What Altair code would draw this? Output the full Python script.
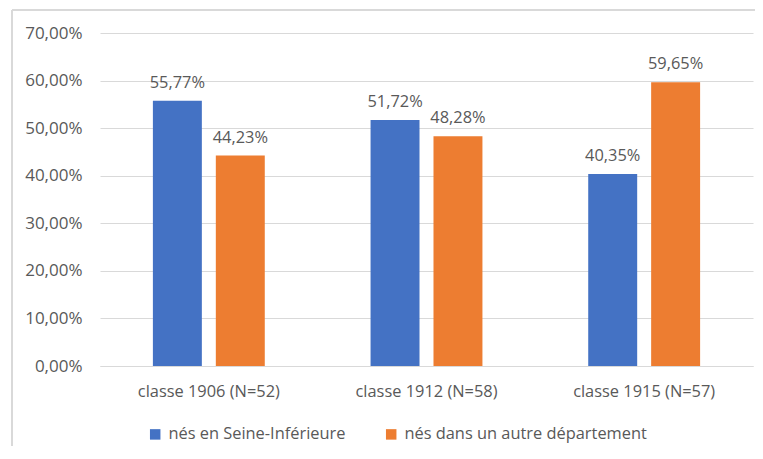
import altair as alt
import pandas as pd

categories = ["classe 1906 (N=52)", "classe 1912 (N=58)", "classe 1915 (N=57)"]
series = ["nés en Seine-Inférieure", "nés dans un autre département"]
values_seine = [0.5577, 0.5172, 0.4035]
values_autre = [0.4423, 0.4828, 0.5965]
colors = ["#4472C4", "#ED7D31"]

rows = []
for c, a, b in zip(categories, values_seine, values_autre):
    rows.append({"classe": c, "origine": series[0], "part": a})
    rows.append({"classe": c, "origine": series[1], "part": b})
df = pd.DataFrame(rows)
df["label"] = df["part"].map(lambda v: f"{v*100:.2f}%".replace(".", ","))

FONT = "Open Sans"
FS = 16.4
TXT = "#595959"
GRID = "#d9d9d9"

x = alt.X("classe:N", sort=categories, title=None,
          scale=alt.Scale(paddingInner=0.486, paddingOuter=0.243),
          axis=alt.Axis(labelAngle=0, labelFont=FONT, labelFontSize=FS,
                        labelColor=TXT, labelPadding=17, ticks=False,
                        domainColor=GRID, domainWidth=1))
xo = alt.XOffset("origine:N", sort=series,
                 scale=alt.Scale(paddingInner=0.222, paddingOuter=0))
y = alt.Y("part:Q", title=None,
          scale=alt.Scale(domain=[0, 0.7], nice=False),
          axis=alt.Axis(values=[0, 0.1, 0.2, 0.3, 0.4, 0.5, 0.6, 0.7],
                        labelExpr="replace(format(datum.value, '.2%'), '.', ',')",
                        labelFont=FONT, labelFontSize=17, labelColor=TXT,
                        labelPadding=18, ticks=False, domain=False,
                        gridColor=GRID, gridWidth=1))

base = alt.Chart(df)
bars = base.mark_bar().encode(
    x=x, xOffset=xo, y=y,
    color=alt.Color("origine:N", sort=series,
                    scale=alt.Scale(domain=series, range=colors),
                    legend=alt.Legend(title=None, orient="none", direction="horizontal",
                                      legendX=47, legendY=393,
                                      symbolType="square", symbolSize=110,
                                      symbolStrokeWidth=0,
                                      labelFont=FONT, labelFontSize=FS,
                                      labelColor=TXT, labelOffset=5,
                                      columnPadding=37, labelLimit=400)),
)
labels = base.mark_text(baseline="bottom", dy=-10, font=FONT, fontSize=FS,
                        color=TXT).encode(
    x=alt.X("classe:N", sort=categories), xOffset=alt.XOffset("origine:N", sort=series),
    y="part:Q", text="label:N")

left_border = alt.Chart(df).mark_rule(color=GRID, strokeWidth=2).encode(
    x=alt.value(-88), y=alt.value(-23), y2=alt.value(425))
top_border = alt.Chart(df).mark_rule(color=GRID, strokeWidth=2).encode(
    x=alt.value(-88), x2=alt.value(660), y=alt.value(-23))

chart = alt.layer(bars, labels, left_border, top_border).properties(
    width=653, height=333,
    autosize=alt.AutoSizeParams(type="none"),
    padding={"left": 92, "top": 25, "right": 2, "bottom": 80},
    background="white",
).configure_view(strokeWidth=0, stroke="transparent")

chart.save("out.html", embed_options={"renderer": "svg", "actions": False})
